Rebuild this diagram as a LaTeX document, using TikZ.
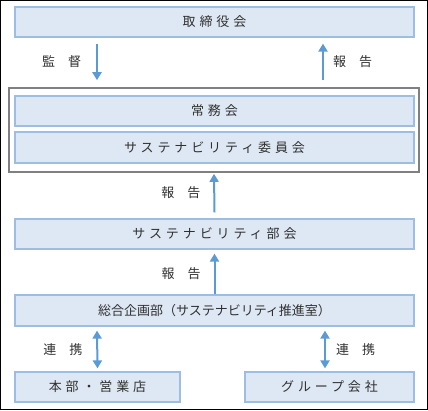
\documentclass[tikz,border=0pt]{standalone}
\usepackage{fontspec}
\newfontfamily\jpfont{Noto Sans CJK JP}
\newfontfamily\jpwide[LetterSpace=30]{Noto Sans CJK JP}
\usetikzlibrary{arrows.meta}
\definecolor{boxfill}{HTML}{DEE8F5}
\definecolor{boxline}{HTML}{9DBEE0}
\definecolor{arrowblue}{HTML}{5B9BD5}
\definecolor{txt}{HTML}{303030}
\tikzset{
  orgbox/.style={draw=boxline, fill=boxfill, line width=1.2pt, inner sep=0pt,
    minimum height=30pt, text=txt, font=\jpwide\fontsize{13}{15}\selectfont},
  flow/.style={draw=arrowblue, line width=2pt, -{Triangle[width=9pt,length=8pt]}},
  both/.style={draw=arrowblue, line width=2pt, {Triangle[width=9pt,length=8pt]}-{Triangle[width=9pt,length=8pt]}},
  lbl/.style={text=txt, font=\jpfont\fontsize{13}{15}\selectfont, inner sep=0pt}
}
\begin{document}
\begin{tikzpicture}[x=1pt,y=1pt]
\useasboundingbox (0,0) rectangle (428,410);
\draw [black, line width=1.2pt] (0.6,0.6) rectangle (427.4,409.4);
% boxes
\node [orgbox, minimum width=399pt] (board) at (214.5,388) {取締役会};
\node [draw=gray, line width=1.6pt, minimum width=410pt, minimum height=84pt] (council) at (214,280) {};
\node [orgbox, minimum width=399pt] (jomu) at (214.5,299) {常務会};
\node [orgbox, minimum width=399pt, minimum height=31pt] (iinkai) at (214.5,262.5) {サステナビリティ委員会};
\node [orgbox, minimum width=399pt] (bukai) at (214.5,176) {サステナビリティ部会};
\node [orgbox, minimum width=399pt, minimum height=31pt, font=\jpfont\fontsize{13}{15}\selectfont] (kikaku) at (214.5,99.5) {総合企画部（サステナビリティ推進室）};
\node [orgbox, minimum width=165pt] (honbu) at (97.5,23) {本部・営業店};
\node [orgbox, minimum width=169pt] (group) at (329.5,23) {グループ会社};
% arrows
\draw [flow] ([xshift=-117.5pt,yshift=-6pt]board.south) -- ([xshift=-117pt,yshift=7pt]council.north)
  node [lbl, midway, left=15pt] {監\quad 督};
\draw [flow] ([xshift=109pt,yshift=7pt]council.north) -- ([xshift=108.5pt,yshift=-6pt]board.south)
  node [lbl, midway, right=9pt] {報\quad 告};
\draw [flow] ([yshift=6pt]bukai.north) -- ([yshift=-1pt]council.south)
  node [lbl, midway, left=13pt] {報\quad 告};
\draw [flow] (kikaku.north) -- ([yshift=-4pt]bukai.south)
  node [lbl, midway, left=13pt] {報\quad 告};
\draw [both] ([xshift=-117.5pt,yshift=-4pt]kikaku.south) -- ([yshift=3pt]honbu.north)
  node [lbl, midway, left=14pt] {連\quad 携};
\draw [both] ([xshift=110.5pt,yshift=-4pt]kikaku.south) -- ([xshift=-4.5pt,yshift=3pt]group.north)
  node [lbl, midway, right=10pt] {連\quad 携};
\end{tikzpicture}
\end{document}
